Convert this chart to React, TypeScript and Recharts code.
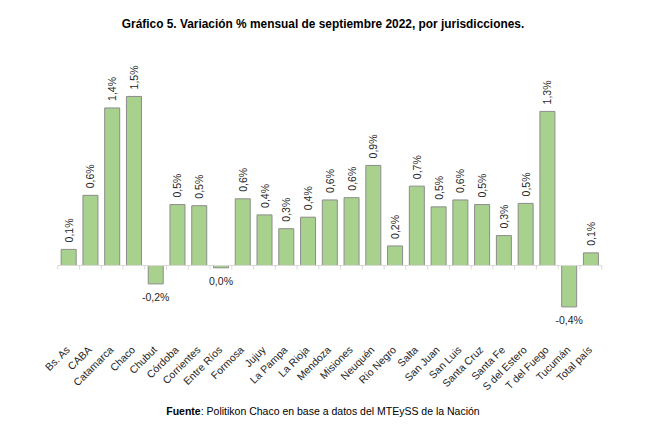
import React from "react";
import { BarChart, Bar, XAxis, YAxis, LabelList, ReferenceLine } from "recharts";

const provinces = [
  "Bs. As", "CABA", "Catamarca", "Chaco", "Chubut", "Córdoba", "Corrientes", "Entre Ríos",
  "Formosa", "Jujuy", "La Pampa", "La Rioja", "Mendoza", "Misiones", "Neuquén", "Río Negro",
  "Salta", "San Juan", "San Luis", "Santa Cruz", "Santa Fe", "S del Estero", "T del Fuego",
  "Tucumán", "Total país",
];

// monthly % change, September 2022
const variation = [
  0.14, 0.61, 1.37, 1.47, -0.16, 0.53, 0.52, -0.02,
  0.58, 0.44, 0.32, 0.42, 0.57, 0.59, 0.87, 0.17,
  0.69, 0.51, 0.57, 0.53, 0.26, 0.54, 1.34,
  -0.36, 0.11,
];

const yDomain = [-0.6, 1.6];

const data = provinces.map((name, i) => ({ name, value: variation[i] }));

const FONT = "Arial, 'Liberation Sans', sans-serif";

function fmt(v: number) {
  const r = Math.round(v * 10) / 10;
  return (r === 0 ? 0 : r).toFixed(1).replace(".", ",") + "%";
}

function CategoryTick(props: any) {
  const { x, y, payload } = props;
  return (
    <g transform={`translate(${x + 2},${y + 8})`}>
      <text
        textAnchor="end"
        transform="rotate(-45)"
        fontSize={10.5}
        fontFamily={FONT}
        fill="#262626"
      >
        {payload.value}
      </text>
    </g>
  );
}

function ValueLabel(props: any) {
  const { x, y, width, height, value } = props;
  const cx = x + width / 2;
  if (value >= 0) {
    const top = Math.min(y, y + height);
    return (
      <text
        x={0}
        y={0}
        transform={`translate(${cx},${top - 7}) rotate(-90)`}
        textAnchor="start"
        dominantBaseline="central"
        fontSize={10.5}
        fontFamily={FONT}
        fill="#262626"
      >
        {fmt(value)}
      </text>
    );
  }
  const bottom = Math.max(y, y + height);
  return (
    <text
      x={cx}
      y={bottom + 13}
      textAnchor="middle"
      dominantBaseline="central"
      fontSize={10.5}
      fontFamily={FONT}
      fill="#262626"
    >
      {fmt(value)}
    </text>
  );
}

// zero line with Excel-style tick marks at category boundaries
function ZeroAxis(props: any) {
  const { x1, y1, x2 } = props;
  const n = provinces.length;
  const step = (x2 - x1) / n;
  const marks = [];
  for (let i = 0; i <= n; i++) {
    const tx = x1 + i * step;
    marks.push(<line key={i} x1={tx} x2={tx} y1={y1} y2={y1 + 4} stroke="#d9d9d9" />);
  }
  return (
    <g>
      <line x1={x1} x2={x2} y1={y1} y2={y1} stroke="#d9d9d9" />
      {marks}
    </g>
  );
}

export default function App() {
  return (
    <div
      style={{
        position: "absolute",
        left: 0,
        top: 0,
        width: 672,
        height: 437,
        background: "#fff",
        fontFamily: FONT,
      }}
    >
      <div
        style={{
          position: "absolute",
          left: 323,
          top: 17,
          transform: "translateX(-50%)",
          whiteSpace: "nowrap",
          fontWeight: "bold",
          fontSize: 11.9,
          color: "#000",
        }}
      >
        Gráfico 5. Variación % mensual de septiembre 2022, por jurisdicciones.
      </div>
      <BarChart
        width={672}
        height={437}
        data={data}
        margin={{ top: 81.5, right: 70.3, left: 57.7, bottom: 42.5 }}
        barCategoryGap="16%"
      >
        <XAxis
          dataKey="name"
          interval={0}
          axisLine={false}
          tickLine={false}
          height={60}
          tick={<CategoryTick />}
        />
        <YAxis hide domain={yDomain} />
        <ReferenceLine y={0} shape={<ZeroAxis />} />
        <Bar
          dataKey="value"
          fill="#a9d18e"
          stroke="#8c8c8c"
          strokeWidth={1}
          isAnimationActive={false}
        >
          <LabelList dataKey="value" content={<ValueLabel />} />
        </Bar>
      </BarChart>
      <div
        style={{
          position: "absolute",
          left: 323,
          top: 405,
          transform: "translateX(-50%)",
          whiteSpace: "nowrap",
          fontSize: 10.5,
          color: "#000",
        }}
      >
        <b>Fuente</b>: Politikon Chaco en base a datos del MTEySS de la Nación
      </div>
    </div>
  );
}
